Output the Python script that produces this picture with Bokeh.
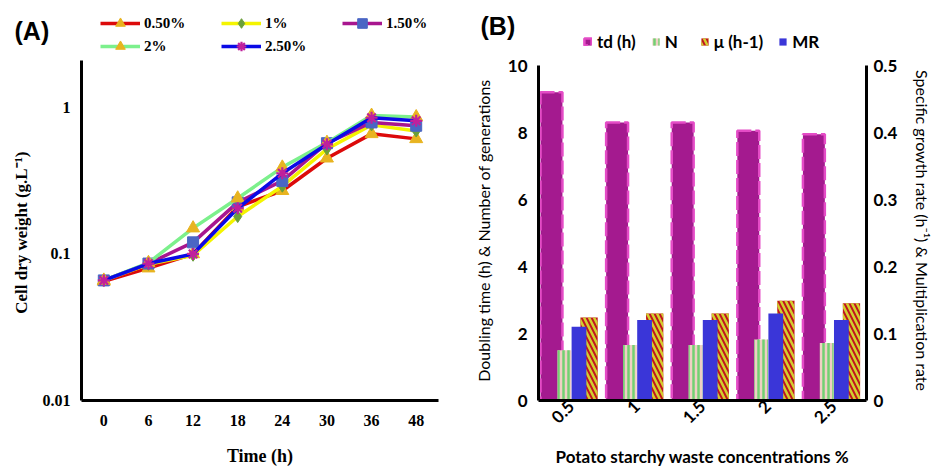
import math
from bokeh.plotting import figure
from bokeh.models import (Range1d, FactorRange, LinearAxis, FixedTicker, Legend, LegendItem,
                          Label, ColumnDataSource, CustomJSTickFormatter)
from bokeh.transform import dodge
from bokeh.layouts import row, column
from bokeh.embed import file_html
from bokeh.resources import INLINE

# ---------------- data: panel A ----------------
times = ["0", "6", "12", "18", "24", "30", "36", "48"]
cdw_0_5 = [0.065, 0.080, 0.100, 0.210, 0.270, 0.450, 0.660, 0.610]
cdw_1_0 = [0.066, 0.085, 0.098, 0.180, 0.290, 0.520, 0.760, 0.690]
cdw_1_5 = [0.066, 0.086, 0.120, 0.225, 0.315, 0.570, 0.790, 0.750]
cdw_2_0 = [0.066, 0.087, 0.150, 0.240, 0.390, 0.575, 0.880, 0.860]
cdw_2_5 = [0.066, 0.086, 0.100, 0.205, 0.355, 0.560, 0.850, 0.810]
series_labels = ["0.50%", "1%", "1.50%", "2%", "2.50%"]
y_ticks_a = [0.01, 0.1, 1]

# ---------------- data: panel B ----------------
concs = ["0.5", "1", "1.5", "2", "2.5"]
td_h = [9.2, 8.3, 8.3, 8.05, 7.95]
n_gen = [1.50, 1.66, 1.66, 1.82, 1.72]
mu_h = [0.124, 0.130, 0.130, 0.149, 0.145]
mult_rate = [0.110, 0.120, 0.120, 0.130, 0.120]
bar_labels = ["td (h)", "N", "\u03bc (h-1)", "MR"]
left_ticks_b = [0, 2, 4, 6, 8, 10]
right_ticks_b = [0, 0.1, 0.2, 0.3, 0.4, 0.5]

SERIF = "Liberation Serif"
SANS = "Lato"
PANEL_FONT = "Liberation Sans"
HEAD_H = 56
WA, WB = 470, 465
H_MAIN = 471 - HEAD_H


def style_axis(ax, font, size):
    ax.axis_line_width = 3
    ax.axis_line_color = "black"
    ax.major_tick_line_color = None
    ax.minor_tick_line_color = None
    ax.major_tick_out = 0
    ax.major_tick_in = 0
    ax.minor_tick_out = 0
    ax.minor_tick_in = 0
    ax.major_label_text_font = font
    ax.major_label_text_font_style = "bold"
    ax.major_label_text_font_size = size
    ax.major_label_text_color = "black"
    ax.axis_label_text_font = font
    ax.axis_label_text_color = "black"


def header(width):
    h = figure(width=width, height=HEAD_H, x_range=Range1d(0, 1), y_range=Range1d(0, 1),
               x_axis_location=None, y_axis_location=None, output_backend="svg",
               toolbar_location=None, min_border=0)
    h.outline_line_color = None
    h.xgrid.visible = False
    h.ygrid.visible = False
    return h


# ================= Panel A =================
pA = figure(width=WA, height=H_MAIN, x_range=FactorRange(*times),
            y_range=Range1d(0.01, 2.09), y_axis_type="log", output_backend="svg",
            toolbar_location=None, min_border_left=81, min_border_right=32,
            min_border_top=4, min_border_bottom=71)
pA.outline_line_color = None
pA.xgrid.visible = False
pA.ygrid.visible = False

hA = header(WA)

styles = [
    (cdw_0_5, "#dc0a0a", "triangle", "#e8b420", 13),
    (cdw_1_0, "#f4f400", "diamond", "#6a9f3a", 12),
    (cdw_1_5, "#a8168f", "square", "#4a66c4", 11),
    (cdw_2_0, "#7cf08c", "triangle", "#e8b420", 13),
    (cdw_2_5, "#0a0ae6", "asterisk", "#c0209c", 12),
]
items_a = []
for lab, (vals, lc, mk, mc, sz) in zip(series_labels, styles):
    pA.line(times, vals, line_color=lc, line_width=3.5)
    if mk == "asterisk":
        mkw = dict(line_color=mc, line_width=2.2)
    else:
        mkw = dict(fill_color=mc, line_color=mc)
    pA.scatter(times, vals, marker=mk, size=sz, **mkw)
    # hidden legend proxies living in the header strip (same styling as the series)
    ln = hA.line(x=[0, 1], y=[0, 0], line_color=lc, line_width=3.5, visible=False)
    sc = hA.scatter(x=[0], y=[0], marker=mk, size=sz, visible=False, **mkw)
    items_a.append(LegendItem(label=lab, renderers=[ln, sc]))

style_axis(pA.xaxis[0], SERIF, "16px")
style_axis(pA.yaxis[0], SERIF, "16px")
pA.xaxis[0].axis_label_text_font_style = "bold"
pA.yaxis[0].axis_label_text_font_style = "bold"

pA.yaxis[0].ticker = FixedTicker(ticks=y_ticks_a, minor_ticks=[])
pA.yaxis[0].formatter = CustomJSTickFormatter(code="return String(Number(tick.toPrecision(3)));")
pA.yaxis[0].major_label_standoff = 11
pA.yaxis[0].axis_label = "Cell  dry weight (g.L\u207b\u00b9)"
pA.yaxis[0].axis_label_text_font_size = "17px"
pA.yaxis[0].axis_label_standoff = 9
pA.xaxis[0].major_label_standoff = 14
pA.xaxis[0].axis_label = "Time (h)"
pA.xaxis[0].axis_label_text_font_size = "18px"
pA.xaxis[0].axis_label_standoff = 17


def legend_a(items, loc):
    return Legend(items=items, location=loc, orientation="horizontal",
                  label_text_font=SERIF, label_text_font_size="15px", label_text_font_style="bold",
                  label_text_color="black", glyph_width=40, glyph_height=24, label_width=60,
                  label_height=24, label_standoff=4, spacing=17, padding=0, margin=0,
                  border_line_color=None, background_fill_alpha=0)


hA.add_layout(legend_a(items_a[:3], (100, 21)), "center")
hA.add_layout(legend_a(items_a[3:], (100, -2)), "center")
hA.add_layout(Label(x=14, y=26, x_units="screen", y_units="screen", text="(A)",
                    text_font=PANEL_FONT, text_font_style="bold", text_font_size="25px",
                    text_baseline="middle", text_align="left", text_color="black"))

# ================= Panel B =================
top_pad = 5 / 33.5  # frame top sits a little above the 10 mark
pB = figure(width=WB, height=H_MAIN, x_range=FactorRange(*concs),
            y_range=Range1d(0, 10 + top_pad), output_backend="svg", toolbar_location=None,
            min_border_left=64, min_border_right=67, min_border_top=4, min_border_bottom=71)
pB.outline_line_color = None
pB.xgrid.visible = False
pB.ygrid.visible = False
pB.extra_y_ranges = {"right": Range1d(0, (10 + top_pad) / 20)}

hB = header(WB)

src = ColumnDataSource(dict(conc=concs, td=td_h, N=n_gen, mu=mu_h, MR=mult_rate))

td_style = dict(fill_color="#a41a8f", line_color="#e44cc6", line_width=2.5, line_dash="14 4")
n_style = dict(fill_color="#efcfc4", line_color=None, hatch_pattern="|", hatch_color="#72d072",
               hatch_weight=2.5, hatch_scale=5)
mu_style = dict(fill_color="#c0141e", line_color=None, hatch_pattern="\\",
                hatch_color="#d2cf2e", hatch_weight=2.5, hatch_scale=10)
mr_style = dict(fill_color="#3a36d8", line_color=None)

pB.vbar(x=dodge("conc", -0.302, range=pB.x_range), top="td", width=0.334, source=src, **td_style)
pB.vbar(x=dodge("conc", -0.106, range=pB.x_range), top="N", width=0.21, source=src, **n_style)
pB.vbar(x=dodge("conc", 0.271, range=pB.x_range), top="mu", width=0.263, source=src,
        y_range_name="right", **mu_style)
pB.vbar(x=dodge("conc", 0.117, range=pB.x_range), top="MR", width=0.225, source=src,
        y_range_name="right", **mr_style)

right_axis = LinearAxis(y_range_name="right")
pB.add_layout(right_axis, "right")

for ax in (pB.xaxis[0], pB.yaxis[0], right_axis):
    style_axis(ax, SANS, "17px")
    ax.axis_label_text_font_style = "normal"
    ax.axis_label_text_font_size = "16px"

pB.yaxis[0].ticker = FixedTicker(ticks=left_ticks_b, minor_ticks=[])
pB.yaxis[0].bounds = (0, 10)
pB.yaxis[0].major_label_standoff = 11
pB.yaxis[0].axis_label = "Doubling time (h) & Number of generations"
pB.yaxis[0].axis_label_standoff = 12
right_axis.ticker = FixedTicker(ticks=right_ticks_b, minor_ticks=[])
right_axis.bounds = (0, 0.5)
right_axis.formatter = CustomJSTickFormatter(code="return String(Number(tick.toFixed(2)));")
right_axis.major_label_standoff = 7
right_axis.axis_label = "Specific growth rate (h\u207b\u00b9) & Multiplication rate"
right_axis.axis_label_text_font_size = "16px"
right_axis.axis_label_standoff = 13
pB.xaxis[0].major_label_orientation = math.pi / 4
pB.xaxis[0].major_label_standoff = 3
pB.xaxis[0].axis_label = "Potato starchy waste concentrations %"
pB.xaxis[0].axis_label_text_font_style = "bold"
pB.xaxis[0].axis_label_text_font_size = "17px"
pB.xaxis[0].axis_label_standoff = 14

proxies_b = [hB.vbar(x=[0], top=[1], width=1, visible=False, **st)
             for st in (td_style, n_style, mu_style, mr_style)]
items_b = [LegendItem(label=lab, renderers=[r]) for lab, r in zip(bar_labels, proxies_b)]
lgB = Legend(items=items_b, location=(113, 4), orientation="horizontal",
             label_text_font=SANS, label_text_font_size="17px", label_text_font_style="bold",
             label_text_color="black", glyph_width=9, glyph_height=9, label_height=18,
             label_standoff=5, spacing=15, padding=0, margin=0,
             border_line_color=None, background_fill_alpha=0)
hB.add_layout(lgB, "center")
hB.add_layout(Label(x=10, y=30.5, x_units="screen", y_units="screen", text="(B)",
                    text_font=PANEL_FONT, text_font_style="bold", text_font_size="25px",
                    text_baseline="middle", text_align="left", text_color="black"))

layout = column(row(hA, hB), row(pA, pB))
open("out.html", "w").write(file_html(layout, INLINE))
